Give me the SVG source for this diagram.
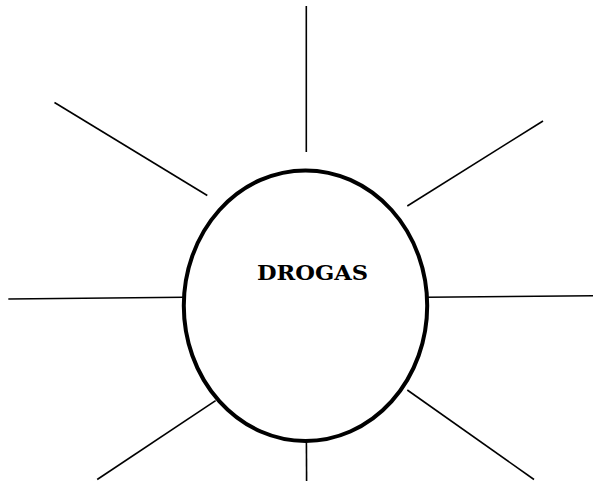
<svg xmlns="http://www.w3.org/2000/svg" width="593" height="481" viewBox="0 0 593 481">
<style>
.ray{stroke:#000;stroke-width:1.6;fill:none}
.hub{fill:#fff;stroke:#000;stroke-width:4}
</style>
<rect width="593" height="481" fill="#fff"/>
<g id="connectors">
<line class="ray" x1="306.3" y1="6" x2="306.3" y2="152"/>
<line class="ray" x1="54.5" y1="102.5" x2="207.3" y2="195.5"/>
<line class="ray" x1="543" y1="121" x2="407.3" y2="206"/>
<line class="ray" x1="8.3" y1="299" x2="184" y2="297.3"/>
<line class="ray" x1="427" y1="297.3" x2="593" y2="295.7"/>
<line class="ray" x1="215.6" y1="400.7" x2="97.2" y2="479.5"/>
<line class="ray" x1="407.3" y1="390" x2="534" y2="479.5"/>
<line class="ray" x1="306.4" y1="441" x2="306.6" y2="481"/>
</g>
<g id="drogas">
<ellipse class="hub" cx="305.5" cy="305.7" rx="121.7" ry="135.3"/>
<text x="257" y="280" font-family="'DejaVu Serif', 'Liberation Mono', serif" font-weight="bold" font-size="20.5" fill="#000" textLength="111" lengthAdjust="spacingAndGlyphs">DROGAS</text>
</g>
</svg>
